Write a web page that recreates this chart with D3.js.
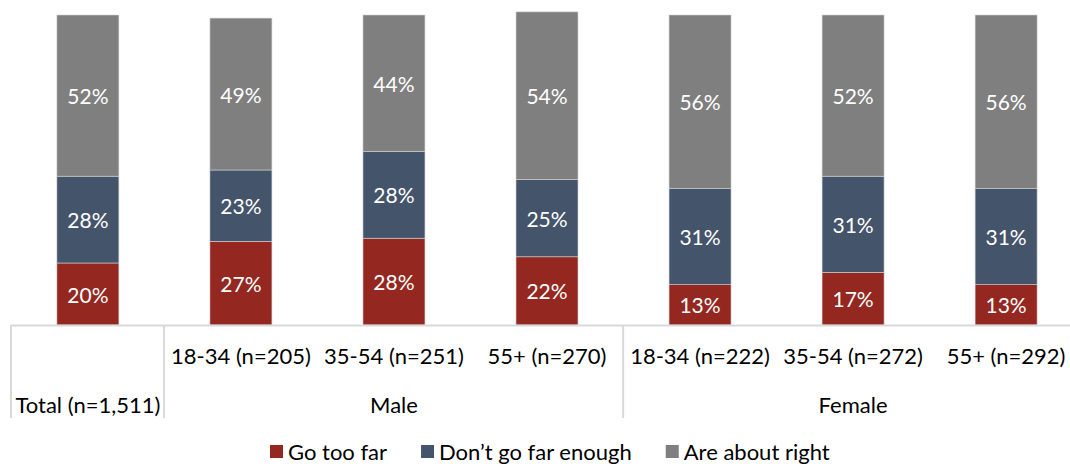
<!DOCTYPE html>
<html><head><meta charset="utf-8">
<script src="https://cdn.jsdelivr.net/npm/d3@7"></script>
<style>body{margin:0;background:#fff}svg{display:block}text{font-family:Lato,"Open Sans",sans-serif}</style>
</head><body><svg id="c" width="1070" height="466"></svg>
<script>
const categories = ["Total (n=1,511)","18-34 (n=205)","35-54 (n=251)","55+ (n=270)","18-34 (n=222)","35-54 (n=272)","55+ (n=292)"];
const groups = [{name:"",from:0,to:0},{name:"Male",from:1,to:3},{name:"Female",from:4,to:6}];
const seriesNames = ["Go too far","Don\u2019t go far enough","Are about right"];
const goTooFar = [20,27,28,22,13,17,13];
const notFarEnough = [28,23,28,25,31,31,31];
const aboutRight = [52,49,44,54,56,52,56];
const colors = ["#942720","#44546A","#7F7F7F"];
const FS = 22;

const svg = d3.select("#c");
const x = d3.scaleBand().domain(d3.range(categories.length)).range([11,1083]).paddingInner(0.595).paddingOuter(0.3);
const y = d3.scaleLinear().domain([0,100]).range([325,15]);
const rows = categories.map((c,i)=>({i, "0":goTooFar[i], "1":notFarEnough[i], "2":aboutRight[i]}));
const stack = d3.stack().keys(["0","1","2"])(rows);

stack.forEach((s,k)=>{
  const g = svg.append("g");
  g.selectAll("rect").data(s).join("rect")
    .attr("x",d=>x(d.data.i)).attr("width",x.bandwidth())
    .attr("y",d=>y(d[1])).attr("height",d=>y(d[0])-y(d[1]))
    .attr("fill",colors[k]).attr("stroke","#d0d0d0").attr("stroke-width",0.6);
  g.selectAll("text").data(s).join("text")
    .attr("x",d=>x(d.data.i)+x.bandwidth()/2).attr("y",d=>(y(d[0])+y(d[1]))/2)
    .attr("text-anchor","middle").attr("dominant-baseline","central")
    .attr("fill","#fff").attr("font-size",21).text(d=>(d[1]-d[0])+"%");
});

// axis
const step = x.step();
const left = 11, right = 1083;
svg.append("line").attr("x1",left).attr("x2",right).attr("y1",325.5).attr("y2",325.5).attr("stroke","#d9d9d9").attr("stroke-width",2);
const bounds = [left, left+step*1, left+step*4];
bounds.forEach(b=>svg.append("line").attr("x1",b).attr("x2",b).attr("y1",325).attr("y2",418).attr("stroke","#d9d9d9").attr("stroke-width",2));

categories.forEach((c,i)=>{
  svg.append("text").attr("x",x(i)+x.bandwidth()/2).attr("y", i===0?404:355)
    .attr("text-anchor","middle").attr("dominant-baseline","central").attr("font-size",FS).attr("fill","#000").text(c);
});
groups.forEach(g=>{
  if(!g.name) return;
  const cx = (x(g.from) - step*0.3 + x(g.to)+x.bandwidth()+step*0.3)/2;
  svg.append("text").attr("x",cx).attr("y",404).attr("text-anchor","middle").attr("dominant-baseline","central").attr("font-size",FS).attr("fill","#000").text(g.name);
});

// legend
let lx = 270;
seriesNames.forEach((n,k)=>{
  svg.append("rect").attr("x",lx).attr("y",445).attr("width",13).attr("height",13).attr("fill",colors[k]);
  const t = svg.append("text").attr("x",lx+18).attr("y",451).attr("dominant-baseline","central").attr("font-size",FS).attr("fill","#000").text(n);
  lx = lx + 18 + t.node().getComputedTextLength() + 34;
});
</script></body></html>
